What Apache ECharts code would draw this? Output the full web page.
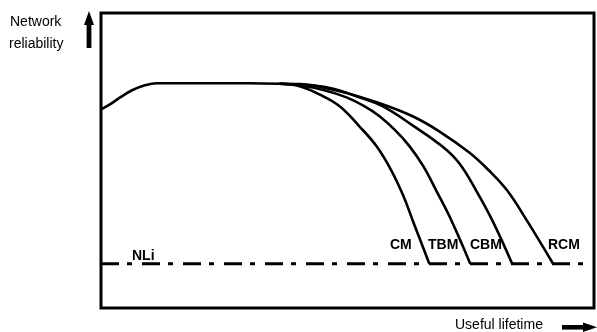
<!DOCTYPE html>
<html>
<head>
<meta charset="utf-8">
<script src="https://cdn.jsdelivr.net/npm/echarts@6/dist/echarts.min.js"></script>
<style>
html,body{margin:0;padding:0;background:#fff;}
#chart{width:597px;height:332px;}
</style>
</head>
<body>
<div id="chart"></div>
<script>
// Schematic values (lifetime 0-100, reliability 0-100)
const baseX = [0, 1.8, 3.9, 6.3, 8.9, 11.3, 20, 30, 36.2];
const baseY = [67.3, 69.0, 71.4, 73.8, 75.5, 76.2, 76.2, 76.2, 76.0];

const cmX = [36.2, 40.3, 44.3, 48.4, 52.4, 55.9, 58.9, 61.3, 63.4, 66.6];
const cmY = [76.0, 75.2, 72.4, 68.4, 61.6, 54.8, 46.6, 38.1, 28.9, 15];

const tbmX = [36.2, 40.3, 45.3, 49.8, 53.4, 56.5, 59.7, 62.6, 65.4, 68.0, 71.1, 74.9];
const tbmY = [76.0, 75.5, 73.8, 71.4, 68.4, 65.0, 60.2, 54.8, 48.0, 39.8, 29.6, 15];

const cbmX = [36.2, 40.3, 46.4, 52.4, 57.1, 63.2, 69.2, 72.7, 76.1, 79.4, 83.4];
const cbmY = [76.0, 75.7, 74.6, 71.4, 68.4, 61.9, 54.8, 49.0, 39.8, 29.6, 15];

const rcmX = [36.2, 40.3, 48.4, 56.5, 63.2, 68.6, 74.7, 78.7, 82.4, 86.4, 91.7];
const rcmY = [76.0, 75.9, 73.5, 69.4, 65.0, 59.9, 52.7, 46.6, 39.8, 29.6, 15];

const nliLevel = 15;
const nliX = [0, 100];

const curveNames = ['CM', 'TBM', 'CBM', 'RCM'];

function pairs(xs, ys) { return xs.map((x, i) => [x, ys[i]]); }

const chart = echarts.init(document.getElementById('chart'), null, {renderer: 'canvas'});

const lineStyle = {color: '#000', width: 2.6};
function curve(name, xs, ys) {
  return {
    name: name, type: 'line', data: pairs(xs, ys), smooth: 0.4,
    showSymbol: false, symbol: 'none', lineStyle: lineStyle, z: 3, animation: false
  };
}

const txt = (text, x, y, bold, align) => ({
  type: 'text', left: x, top: y,
  style: {text: text, fill: '#000', font: (bold ? 'bold ' : '') + '14px "Liberation Sans", Arial, sans-serif', textAlign: align || 'left', textVerticalAlign: 'top'}
});

chart.setOption({
  animation: false,
  backgroundColor: '#fff',
  grid: {left: 101, right: 3, top: 13, bottom: 24, show: true, borderColor: '#000', borderWidth: 3, backgroundColor: 'transparent'},
  xAxis: {type: 'value', min: 0, max: 100, show: false},
  yAxis: {type: 'value', min: 0, max: 100, show: false},
  series: [
    curve('base', baseX, baseY),
    curve(curveNames[0], cmX, cmY),
    curve(curveNames[1], tbmX, tbmY),
    curve(curveNames[2], cbmX, cbmY),
    curve(curveNames[3], rcmX, rcmY),
    {
      name: 'NLi', type: 'line', data: nliX.map(x => [x, nliLevel]), showSymbol: false, symbol: 'none',
      lineStyle: {color: '#000', width: 3, type: [18, 8, 5, 10], cap: 'butt'}, z: 2
    }
  ],
  graphic: [
    txt('Network', 10, 15, false),
    txt('reliability', 9, 37, false),
    txt('Useful lifetime', 455, 318, false),
    txt('NLi', 132, 249, true),
    txt(curveNames[0], 390, 238, true),
    txt(curveNames[1], 428, 238, true),
    txt(curveNames[2], 470, 238, true),
    txt(curveNames[3], 548, 238, true),
    {type: 'polygon', shape: {points: [[89, 11], [84, 25], [94, 25]]}, style: {fill: '#000'}},
    {type: 'rect', shape: {x: 86.6, y: 24, width: 4.8, height: 24}, style: {fill: '#000'}},
    {type: 'rect', shape: {x: 562, y: 325, width: 22, height: 4.6}, style: {fill: '#000'}},
    {type: 'polygon', shape: {points: [[597, 327.3], [583, 322.5], [583, 332]]}, style: {fill: '#000'}}
  ]
});
</script>
</body>
</html>
